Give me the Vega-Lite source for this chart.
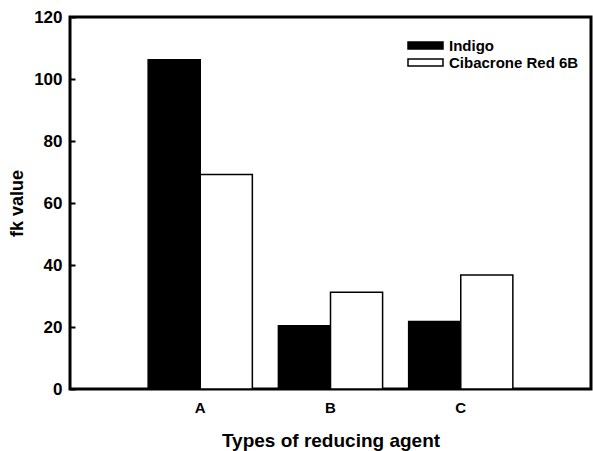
{
  "$schema": "https://vega.github.io/schema/vega-lite/v6.json",
  "autosize": "none",
  "width": 521,
  "height": 372,
  "padding": {"left": 70, "top": 17, "right": 2, "bottom": 62},
  "background": "white",
  "data": {
    "values": [
      {"agent": "A", "dye": "Indigo", "value": 106.2},
      {"agent": "A", "dye": "Cibacrone Red 6B", "value": 69.2},
      {"agent": "B", "dye": "Indigo", "value": 20.4},
      {"agent": "B", "dye": "Cibacrone Red 6B", "value": 31.2},
      {"agent": "C", "dye": "Indigo", "value": 21.8},
      {"agent": "C", "dye": "Cibacrone Red 6B", "value": 36.8}
    ]
  },
  "mark": {"type": "bar", "stroke": "black", "strokeWidth": 1.5},
  "encoding": {
    "x": {
      "field": "agent",
      "type": "nominal",
      "scale": {"paddingInner": 0.2, "paddingOuter": 0.6},
      "axis": {
        "title": "Types of reducing agent",
        "labelAngle": 0,
        "ticks": false,
        "domain": false,
        "labelPadding": 11,
        "labelFontSize": 15,
        "labelFontWeight": "bold",
        "titleFontSize": 19,
        "titleFontWeight": "bold",
        "titlePadding": 16
      }
    },
    "xOffset": {
      "field": "dye",
      "type": "nominal",
      "sort": ["Indigo", "Cibacrone Red 6B"],
      "scale": {"paddingInner": 0, "paddingOuter": 0}
    },
    "y": {
      "field": "value",
      "type": "quantitative",
      "scale": {"domain": [0, 120], "nice": false},
      "axis": {
        "title": "fk value",
        "values": [0, 20, 40, 60, 80, 100, 120],
        "grid": false,
        "domain": false,
        "ticks": true,
        "offset": -5,
        "tickSize": 5,
        "tickWidth": 2,
        "tickColor": "black",
        "labelPadding": 8,
        "labelFontSize": 17,
        "labelFontWeight": "bold",
        "titleFontSize": 18,
        "titleFontWeight": "bold",
        "titlePadding": 7
      }
    },
    "color": {
      "field": "dye",
      "type": "nominal",
      "scale": {"domain": ["Indigo", "Cibacrone Red 6B"], "range": ["black", "white"]},
      "legend": {
        "title": null,
        "orient": "none",
        "legendX": 348,
        "legendY": 21,
        "symbolType": "M-5,-1H5V1H-5Z",
        "symbolSize": 49,
        "symbolStrokeColor": "black",
        "symbolStrokeWidth": 1.5,
        "labelFontSize": 15,
        "labelFontWeight": "bold",
        "labelColor": "black",
        "labelOffset": 16,
        "rowPadding": 1
      }
    }
  },
  "config": {
    "font": "Liberation Sans",
    "view": {"stroke": "black", "strokeWidth": 3},
    "axis": {"labelColor": "black", "titleColor": "black"}
  }
}
